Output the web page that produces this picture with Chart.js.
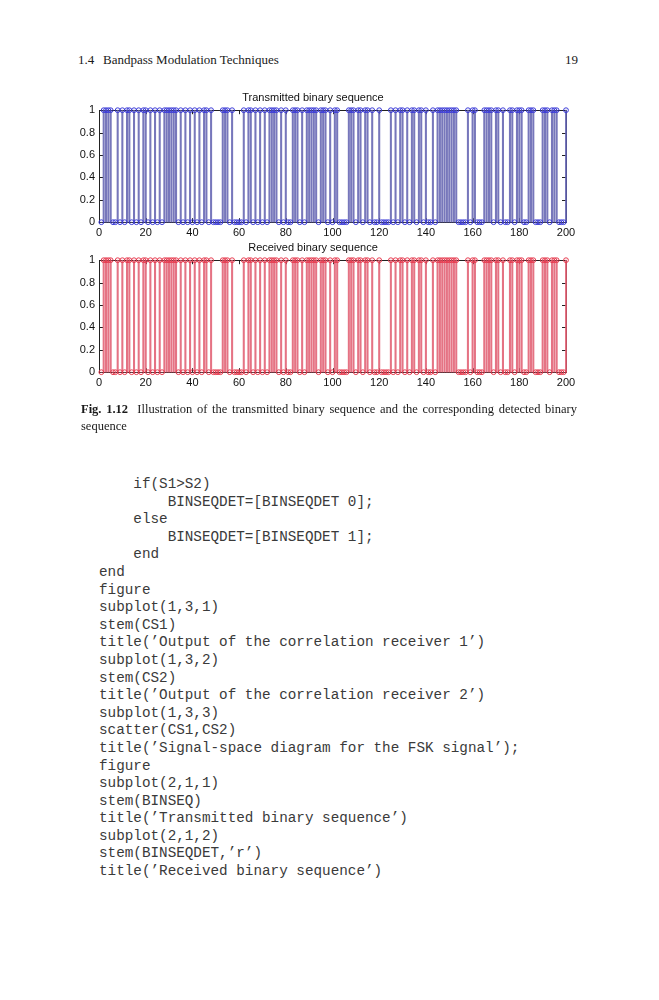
<!DOCTYPE html>
<html>
<head>
<meta charset="utf-8">
<script src="https://cdn.jsdelivr.net/npm/chart.js@4/dist/chart.umd.min.js"></script>
<style>
  html, body { margin:0; padding:0; background:#fff; }
  body { width:659px; height:1000px; position:relative; overflow:hidden; }
  .serif { font-family:"Liberation Serif","DejaVu Serif",serif; color:#1a1a1a; position:absolute; white-space:nowrap; }
  canvas { position:absolute; }
  pre { position:absolute; margin:0; font-family:"Liberation Mono","DejaVu Sans Mono",monospace; font-size:14.3px; line-height:17.6px; color:#3a3a3a; }
</style>
</head>
<body>
<div class="serif" style="left:78px; top:52px; font-size:13px;">1.4</div>
<div class="serif" style="left:103px; top:52px; font-size:13px;">Bandpass Modulation Techniques</div>
<div class="serif" style="left:565px; top:52px; font-size:13px;">19</div>

<canvas id="c1" width="520" height="157" style="left:60px; top:88px;"></canvas>
<canvas id="c2" width="520" height="157" style="left:60px; top:238px;"></canvas>

<div class="serif" style="left:81px; top:402px; font-size:12.5px; width:496px; text-align:justify; text-align-last:justify;"><b>Fig. 1.12</b>&nbsp;&nbsp;Illustration of the transmitted binary sequence and the corresponding detected binary</div>
<div class="serif" style="left:81px; top:419px; font-size:12.5px;">sequence</div>

<pre style="left:99px; top:476px;">    if(S1&gt;S2)
        BINSEQDET=[BINSEQDET 0];
    else
        BINSEQDET=[BINSEQDET 1];
    end
end
figure
subplot(1,3,1)
stem(CS1)
title(’Output of the correlation receiver 1’)
subplot(1,3,2)
stem(CS2)
title(’Output of the correlation receiver 2’)
subplot(1,3,3)
scatter(CS1,CS2)
title(’Signal-space diagram for the FSK signal’);
figure
subplot(2,1,1)
stem(BINSEQ)
title(’Transmitted binary sequence’)
subplot(2,1,2)
stem(BINSEQDET,’r’)
title(’Received binary sequence’)</pre>

<script>
// ---- data ----
const transmittedTitle = 'Transmitted binary sequence';
const receivedTitle = 'Received binary sequence';
const xTicks = [0, 20, 40, 60, 80, 100, 120, 140, 160, 180, 200];
const yTicks = [0, 0.2, 0.4, 0.6, 0.8, 1];
const BINSEQ = [
  0,1,1,1,1,0,0,1,0,1,  0,1,1,0,1,0,1,0,1,1,  0,1,0,1,0,1,0,1,1,1,  1,1,1,0,1,0,1,0,1,0,
  1,0,1,0,1,1,0,1,0,0,  0,0,1,1,1,0,1,0,0,0,  0,1,0,1,1,0,1,0,1,0,  1,0,1,1,1,1,0,1,0,1,
  0,0,1,1,1,0,1,0,1,1,  1,1,1,0,1,1,1,0,1,0,  1,1,0,0,0,0,1,1,1,0,  1,1,0,1,1,0,1,0,0,1,
  0,0,0,0,1,0,1,0,1,1,  0,1,0,1,1,0,1,1,0,1,  0,0,1,0,1,1,1,1,1,1,  1,1,1,0,0,0,0,1,0,1,
  1,0,0,0,1,1,1,1,0,1,  1,0,1,0,0,1,1,0,1,1,  1,0,0,1,1,1,0,0,0,1,  1,1,0,1,1,1,0,0,0,1
];
const BINSEQDET = [
  0,1,1,1,1,0,0,1,0,1,  0,1,1,0,1,0,1,0,1,1,  0,1,0,1,0,1,0,1,1,1,  1,1,1,0,1,0,1,0,1,0,
  1,0,1,0,1,1,0,1,0,0,  0,0,1,1,1,0,1,0,0,0,  0,1,0,1,1,0,1,0,1,0,  1,0,1,1,1,1,0,1,0,1,
  0,0,1,1,1,0,1,0,1,1,  1,1,1,0,1,1,1,0,1,0,  1,1,0,0,0,0,1,1,1,0,  1,1,0,1,1,0,1,0,0,1,
  0,0,0,0,1,0,1,0,1,1,  0,1,0,1,1,0,1,1,0,1,  0,0,1,0,1,1,1,1,1,1,  1,1,1,0,0,0,0,1,0,1,
  1,0,0,0,1,1,1,1,0,1,  1,0,1,0,0,1,1,0,1,1,  1,0,0,1,1,1,0,0,0,1,  1,1,0,1,1,1,0,0,0,1
];

// ---- drawing ----
const FONT = { family: '"Liberation Sans", Arial, sans-serif', size: 11 };

const matlabAxes = {
  id: 'matlabAxes',
  beforeDatasetsDraw(chart) {
    const { ctx, chartArea: a, scales } = chart;
    ctx.save();
    ctx.strokeStyle = '#222';
    ctx.lineWidth = 1;
    ctx.strokeRect(Math.round(a.left) + 0.5, Math.round(a.top) + 0.5,
                   Math.round(a.right - a.left), Math.round(a.bottom - a.top));
    const L = 4;
    ctx.beginPath();
    xTicks.forEach(v => {
      const px = Math.round(scales.x.getPixelForValue(v)) + 0.5;
      ctx.moveTo(px, a.bottom); ctx.lineTo(px, a.bottom - L);
      ctx.moveTo(px, a.top); ctx.lineTo(px, a.top + L);
    });
    yTicks.forEach(v => {
      const py = Math.round(scales.y.getPixelForValue(v)) + 0.5;
      ctx.moveTo(a.left, py); ctx.lineTo(a.left + L, py);
      ctx.moveTo(a.right, py); ctx.lineTo(a.right - L, py);
    });
    ctx.stroke();
    ctx.restore();
  }
};

function makeStemChart(id, values, title, stemColor, markerColor) {
  const pts = values.map((v, i) => ({ x: i + 1, y: v }));
  return new Chart(document.getElementById(id), {
    type: 'bar',
    data: {
      datasets: [
        { type: 'bar', data: pts, backgroundColor: stemColor, borderWidth: 0,
          barThickness: 1.4, clip: false, order: 2 },
        { type: 'line', data: pts, showLine: false, pointRadius: 2.4,
          pointBorderWidth: 1, pointBorderColor: markerColor,
          pointBackgroundColor: 'rgba(0,0,0,0)', clip: false, order: 1 }
      ]
    },
    options: {
      responsive: false,
      animation: false,
      events: [],
      layout: { padding: { left: 0, right: 14, top: 0, bottom: 0 } },
      plugins: {
        legend: { display: false },
        tooltip: { enabled: false },
        title: { display: true, text: title, color: '#111',
                 font: { ...FONT, weight: 'normal' }, padding: { top: 3, bottom: 6 } }
      },
      scales: {
        x: {
          type: 'linear', min: 0, max: 200, offset: false,
          grid: { display: false, drawTicks: false }, border: { display: false },
          afterBuildTicks: s => { s.ticks = xTicks.map(v => ({ value: v })); },
          afterFit: s => { s.height = 22.8; },
          ticks: { color: '#111', font: FONT, padding: 4, maxRotation: 0, autoSkip: false }
        },
        y: {
          type: 'linear', min: 0, max: 1,
          grid: { display: false, drawTicks: false }, border: { display: false },
          afterBuildTicks: s => { s.ticks = yTicks.map(v => ({ value: v })); },
          afterFit: s => { s.width = 39; },
          ticks: { color: '#111', font: FONT, padding: 4, callback: v => String(Math.round(v * 10) / 10) }
        }
      }
    },
    plugins: [matlabAxes]
  });
}

makeStemChart('c1', BINSEQ, transmittedTitle, 'rgba(95,95,175,0.85)', 'rgb(60,60,215)');
makeStemChart('c2', BINSEQDET, receivedTitle, 'rgba(225,90,110,0.85)', 'rgb(230,60,80)');
</script>
</body>
</html>
